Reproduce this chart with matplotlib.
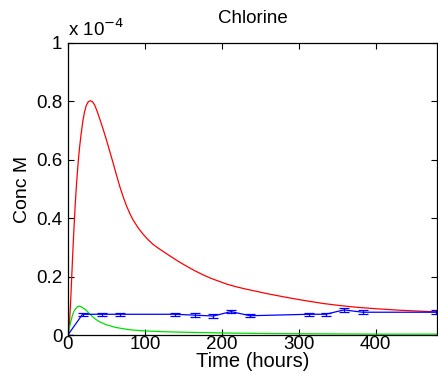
import matplotlib
matplotlib.use("Agg")
import matplotlib.pyplot as plt

plt.rcParams['font.family'] = ['Liberation Sans', 'DejaVu Sans']

# model curves (conc in units of 1e-4 M)
t_red = [0, 1, 2, 3, 4, 5, 6.5, 8, 9.5, 10.8, 12, 13.5, 15.2, 17.3, 19.5, 21.5, 23.8, 26.3,
         29, 31.8, 34.7, 38, 41.5, 46, 50.2, 54.5, 58.9, 63, 67.5, 72, 76.2, 80.5, 84.8, 91,
         97.8, 104, 110, 116, 121.6, 132.5, 143, 154, 165, 175.7, 186, 197.4, 208, 219, 230,
         240.7, 262, 288, 310, 331.6, 353, 375, 400, 430, 455, 480]
c_red = [0, 0.012, 0.04, 0.085, 0.14, 0.2, 0.29, 0.37, 0.445, 0.50, 0.545, 0.595, 0.643,
         0.69, 0.733, 0.762, 0.785, 0.798, 0.802, 0.799, 0.788, 0.766, 0.739, 0.703, 0.667,
         0.628, 0.588, 0.549, 0.508, 0.472, 0.442, 0.416, 0.394, 0.368, 0.345, 0.327, 0.312,
         0.300, 0.290, 0.271, 0.253, 0.236, 0.220, 0.206, 0.194, 0.183, 0.173, 0.165, 0.158,
         0.152, 0.140, 0.127, 0.117, 0.108, 0.101, 0.095, 0.090, 0.085, 0.082, 0.079]

t_green = [0, 2, 4, 6, 8, 10.4, 12.5, 14.7, 17, 20, 23.4, 27, 32, 36, 40.7, 50, 62, 73, 84,
           100, 127, 160, 200, 260, 330, 400, 480]
c_green = [0, 0.025, 0.048, 0.068, 0.082, 0.091, 0.097, 0.099, 0.097, 0.092, 0.086, 0.076,
           0.063, 0.054, 0.046, 0.035, 0.026, 0.021, 0.017, 0.014, 0.011, 0.009, 0.007,
           0.005, 0.004, 0.003, 0.003]

# measured data with error bars
t_meas = [0, 19, 44, 68, 139, 165, 189, 212, 237, 313, 335, 359, 383, 479]
c_meas = [0, 0.071, 0.071, 0.071, 0.071, 0.068, 0.065, 0.080, 0.066, 0.071, 0.071, 0.086, 0.078, 0.078]
c_err = [0, 0.006, 0.006, 0.006, 0.006, 0.006, 0.006, 0.006, 0.006, 0.006, 0.006, 0.006, 0.006, 0.006]

fig = plt.figure(figsize=(4.38, 3.9), dpi=100)
ax = fig.add_axes([0.155, 0.141, 0.843, 0.749])

ax.plot(t_red, c_red, color='red', lw=0.9)
ax.plot(t_green, c_green, color='#00e000', lw=0.9)
ax.errorbar(t_meas, c_meas, yerr=c_err, color='blue', lw=0.9, elinewidth=0.9,
            capsize=3.5, capthick=0.9)

ax.set_xlim(0, 480)
ax.set_ylim(0, 1)
ax.set_xticks([0, 100, 200, 300, 400])
ax.set_yticks([0, 0.2, 0.4, 0.6, 0.8, 1])
ax.set_yticklabels(['0', '0.2', '0.4', '0.6', '0.8', '1'])
ax.tick_params(direction='in', top=True, right=True, labelsize=13.5, length=4, pad=4)
ax.tick_params(axis='x', pad=1)
for s in ax.spines.values():
    s.set_linewidth(0.9)

ax.set_xlabel('Time (hours)', fontsize=14.5, labelpad=-1)
ax.set_ylabel('Conc M', fontsize=14, labelpad=4)
ax.set_title('Chlorine', fontsize=13.5, pad=14)
ax.text(0.0, 1.01, 'x 10$^{-4}$', transform=ax.transAxes, fontsize=13.5, ha='left', va='bottom')

fig.savefig('out.png', dpi=100)
